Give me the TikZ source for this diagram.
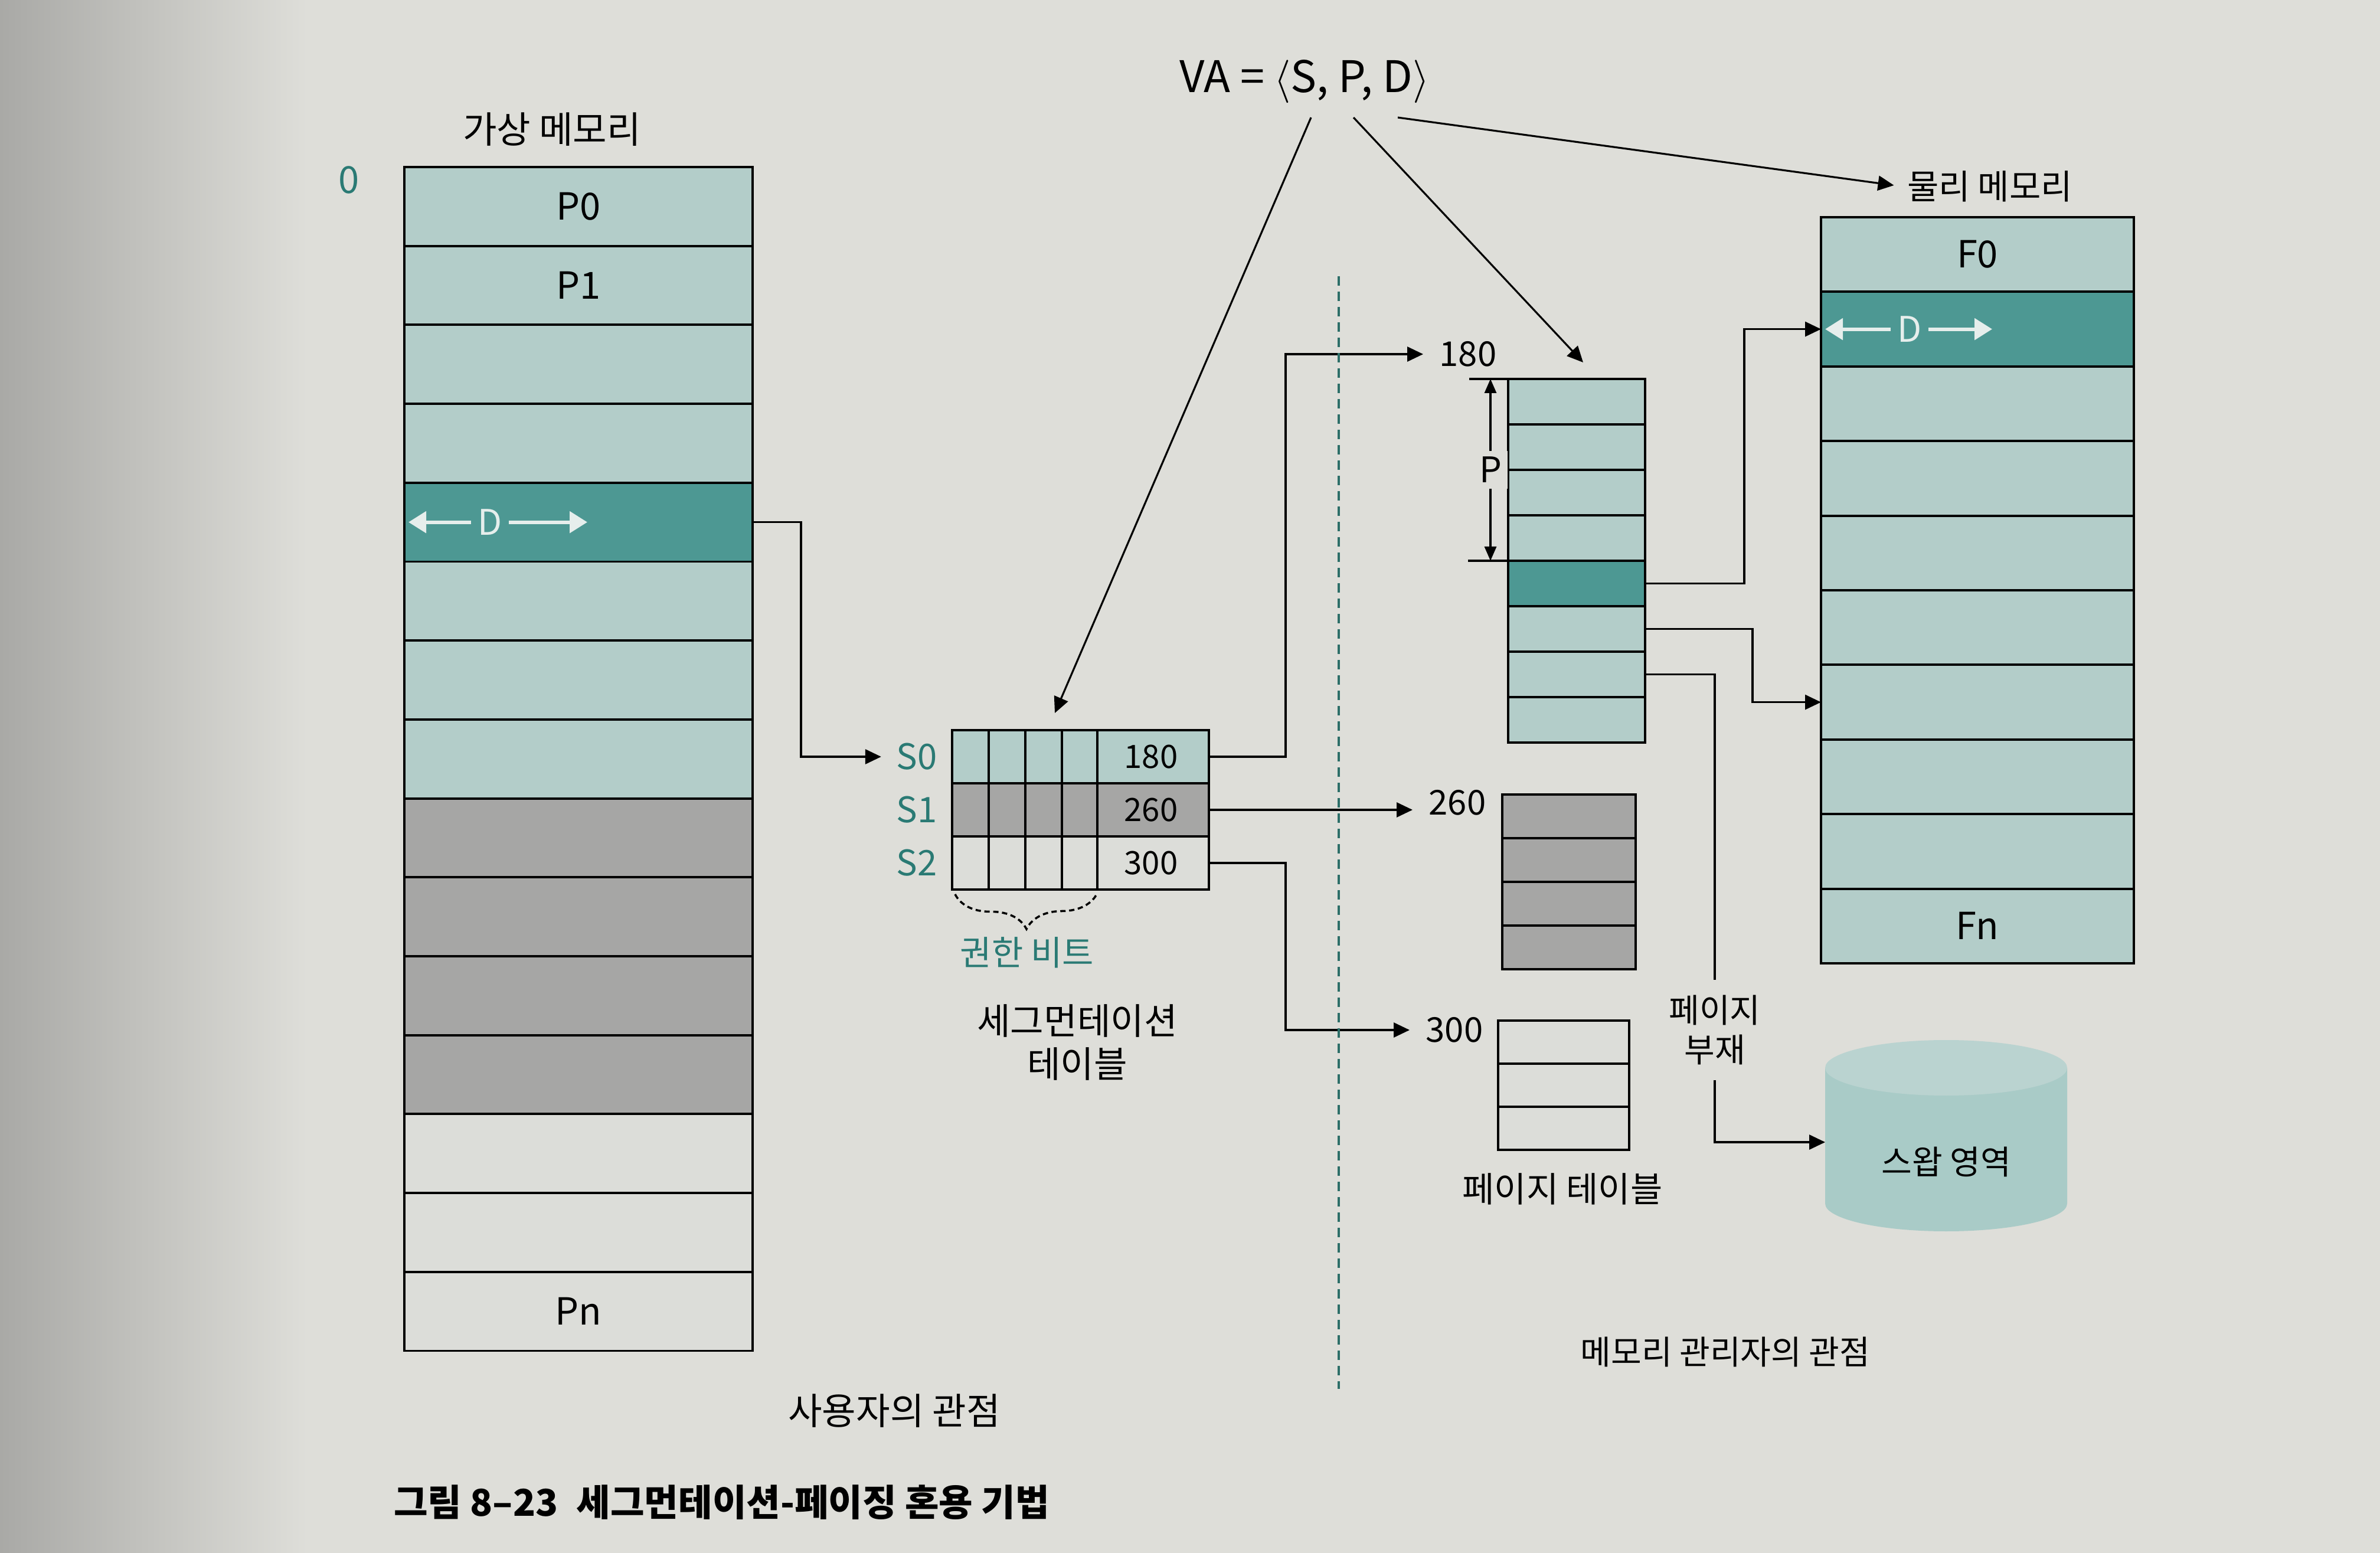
\documentclass[tikz,border=0pt]{standalone}
\usepackage{fontspec}
\setmainfont{Noto Sans CJK KR}
\usetikzlibrary{
    arrows.meta,
    positioning,
    calc,
    decorations.pathreplacing
}

\definecolor{paper}{HTML}{DEDED9}
\definecolor{pageshade}{HTML}{A9A9A6}
\definecolor{memteal}{HTML}{B3CDC9}
\definecolor{memdark}{HTML}{4D9893}
\definecolor{memgray}{HTML}{A6A6A5}
\definecolor{memwhite}{HTML}{DCDDD9}
\definecolor{tealtext}{HTML}{2A7A74}
\definecolor{dividerteal}{HTML}{2C6E68}
\definecolor{swapbody}{HTML}{A9CBC7}
\definecolor{swaptop}{HTML}{BAD3D0}
\definecolor{offsetwhite}{HTML}{E6EEEC}

\tikzset{
    % --- One page / frame slot of a memory column ---
    mem row/.style = {
        rectangle, draw=black, line width=1.1pt,
        inner sep=0pt, outer sep=0pt
    },
    % --- Korean labels ---
    label text/.style = {
        font=\fontsize{16}{19}\selectfont, align=center, inner sep=2pt
    },
    big label/.style = {
        label text, font=\fontsize{17.8}{21}\selectfont
    },
    % --- Page / frame names inside rows ---
    row name/.style = {
        font=\fontsize{18}{20}\selectfont, inner sep=1pt
    },
    % --- Numbers (table entries, page table bases) ---
    num text/.style = {
        font=\fontsize{15.5}{18}\selectfont, inner sep=2pt
    },
    % --- Teal annotation text ---
    teal note/.style = {
        label text, text=tealtext
    },
    % --- Offset D inside the highlighted row ---
    offset text/.style = {
        font=\fontsize{17}{20}\selectfont, text=offsetwhite, inner sep=3pt
    },
    offset arrow/.style = {
        -{Triangle[length=0.3cm, width=0.36cm]}, line width=1.7pt,
        draw=offsetwhite
    },
    % --- Connectors ---
    wire/.style = {line width=0.9pt},
    data arrow/.style = {
        -{Triangle[length=0.27cm, width=0.25cm]}, line width=0.9pt
    },
    % --- Page size dimension ---
    dim arrow/.style = {
        {Triangle[length=0.24cm, width=0.2cm]}-{Triangle[length=0.24cm, width=0.2cm]},
        line width=0.9pt
    },
    % --- User / manager boundary ---
    divider/.style = {
        draw=dividerteal, line width=0.9pt, dash pattern=on 0.16cm off 0.1cm
    },
    % --- Permission bits brace ---
    perm brace/.style = {
        decorate, decoration={brace, mirror, amplitude=0.6cm},
        line width=1pt, dash pattern=on 0.09cm off 0.06cm
    }
}

\begin{document}
\begin{tikzpicture}

% ---------------------------------------------------------
% Page (background)
% ---------------------------------------------------------
\useasboundingbox (0,0) rectangle (40.32,-26.31);
\fill[paper] (0,0) rectangle (40.32,-26.31);
\shade[left color=pageshade, right color=paper] (0,0) rectangle (5.2,-26.31);

% ---------------------------------------------------------
% Virtual memory (left)
% ---------------------------------------------------------
\foreach \c [count=\i from 0] in {memteal,memteal,memteal,memteal,memdark,
        memteal,memteal,memteal,memgray,memgray,memgray,memgray,
        memwhite,memwhite,memwhite}
    \node[mem row, fill=\c, minimum width=5.9cm, minimum height=1.337cm]
        (VM\i) at (9.80, {-2.83-1.337*(\i+0.5)}) {};

\node[big label, above=0.28cm of VM0, xshift=-0.45cm] (VMTitle) {가상 메모리};
\node[row name, text=tealtext] (VMZero) at ($(VM0.north west)+(-0.94,-0.22)$) {0};
\node[row name] (P0Lbl) at (VM0) {P0};
\node[row name] (P1Lbl) at (VM1) {P1};
\node[row name] (PnLbl) at (VM14) {Pn};

% offset inside the page
\node[offset text] (VMD) at ($(VM4.west)+(1.45,0)$) {D};
\coordinate (VMDEnd) at ($(VM4.west)+(3.1,0)$);
\draw[offset arrow, shorten >=2pt] (VMD.west) -- (VM4.west);
\draw[offset arrow] (VMD.east) -- (VMDEnd);

% ---------------------------------------------------------
% Virtual address
% ---------------------------------------------------------
\node[font=\fontsize{21}{24}\selectfont] (VA) at (22.10,-1.38)
    {VA = $\langle$S, P, D$\rangle$};
\coordinate (VaS) at ($(VA.south)+(0.11,-0.12)$);
\coordinate (VaP) at ($(VA.south)+(0.83,-0.12)$);
\coordinate (VaD) at ($(VA.south)+(1.58,-0.12)$);

% ---------------------------------------------------------
% Segmentation table
% ---------------------------------------------------------
\foreach \c [count=\i from 0] in {memteal,memgray,memwhite}
    \node[mem row, fill=\c, minimum width=4.35cm, minimum height=0.9cm]
        (Seg\i) at (18.305, {-12.37-0.9*(\i+0.5)}) {};
\foreach \dx in {0.62,1.24,1.86,2.46}
    \draw[line width=1.1pt] ($(Seg0.north west)+(\dx,0)$) -- ($(Seg2.south west)+(\dx,0)$);

\node[num text] (Base0) at ($(Seg0.east)+(-0.98,0)$) {180};
\node[num text] (Base1) at ($(Seg1.east)+(-0.98,0)$) {260};
\node[num text] (Base2) at ($(Seg2.east)+(-0.98,0)$) {300};

\node[num text, font=\fontsize{17}{19}\selectfont, text=tealtext, left=0.18cm of Seg0] (S0) {S0};
\node[num text, font=\fontsize{17}{19}\selectfont, text=tealtext, left=0.18cm of Seg1] (S1) {S1};
\node[num text, font=\fontsize{17}{19}\selectfont, text=tealtext, left=0.18cm of Seg2] (S2) {S2};

% permission bits
\coordinate (PermL) at ($(Seg2.south west)+(0.05,-0.08)$);
\coordinate (PermR) at ($(Seg2.south west)+(2.46,-0.06)$);
\draw[perm brace] (PermL) -- (PermR);
\node[teal note, font=\fontsize{16.5}{19}\selectfont] (PermLbl) at (17.40,-16.14) {권한 비트};
\node[big label, font=\fontsize{17.5}{20}\selectfont] (SegTitle) at (18.25,-17.66)
    {세그먼테이션\\[1pt]테이블};

\draw[data arrow, shorten >=0.18cm] (VM4.east) -- ++(0.82,0) |- (S0.west);
\draw[data arrow] (VaS) -- ($(Seg0.north west)+(1.74,0.29)$);

% ---------------------------------------------------------
% Page tables
% ---------------------------------------------------------
\foreach \c [count=\i from 0] in {memteal,memteal,memteal,memteal,memdark,
        memteal,memteal,memteal}
    \node[mem row, fill=\c, minimum width=2.32cm, minimum height=0.77cm]
        (PTa\i) at (26.71, {-6.42-0.77*(\i+0.5)}) {};
\foreach \i in {0,...,3}
    \node[mem row, fill=memgray, minimum width=2.26cm, minimum height=0.74cm]
        (PTb\i) at (26.58, {-13.46-0.74*(\i+0.5)}) {};
\foreach \i in {0,...,2}
    \node[mem row, fill=memwhite, minimum width=2.22cm, minimum height=0.73cm]
        (PTc\i) at (26.49, {-17.29-0.73*(\i+0.5)}) {};

\node[num text, font=\fontsize{16.5}{18}\selectfont] (L180) at (24.87,-6.00) {180};
\node[num text, font=\fontsize{16.5}{18}\selectfont] (L260) at (24.69,-13.60) {260};
\node[num text, font=\fontsize{16.5}{18}\selectfont] (L300) at (24.64,-17.45) {300};
\node[label text, font=\fontsize{16.8}{19}\selectfont] (PTTitle) at (26.47,-20.14) {페이지 테이블};

\draw[data arrow, shorten >=0.2cm] (Seg0.east) -- ++(1.30,0) |- (L180.west);
\draw[data arrow, shorten >=0.2cm] (Seg1.east) -- (Seg1.east -| L260.west);
\draw[data arrow, shorten >=0.2cm] (Seg2.east) -- ++(1.30,0) |- (L300.west);

% page size P
\coordinate (PTickTop) at ($(PTa0.north west)+(-0.66,0)$);
\coordinate (PTickBot) at ($(PTa4.north west)+(-0.68,0)$);
\draw[wire] (PTa0.north west) -- (PTickTop);
\draw[wire] (PTa4.north west) -- (PTickBot);
\coordinate (PArrTop) at ($(PTa0.north west)+(-0.30,0)$);
\coordinate (PArrBot) at ($(PTa4.north west)+(-0.30,0)$);
\draw[dim arrow] (PArrTop) -- (PArrBot)
    node[midway, fill=paper, font=\fontsize{17}{18}\selectfont, inner sep=3pt] (PLbl) {P};

\draw[data arrow] (VaP) -- ($(PTa0.north)+(0.11,0.28)$);

% ---------------------------------------------------------
% Physical memory (right)
% ---------------------------------------------------------
\foreach \c [count=\i from 0] in {memteal,memdark,memteal,memteal,memteal,
        memteal,memteal,memteal,memteal,memteal}
    \node[mem row, fill=\c, minimum width=5.30cm, minimum height=1.264cm]
        (PM\i) at (33.50, {-3.68-1.264*(\i+0.5)}) {};

\node[label text, font=\fontsize{16.5}{19}\selectfont] (PMTitle) at (33.71,-3.16) {물리 메모리};
\node[row name] (F0Lbl) at (PM0) {F0};
\node[row name] (FnLbl) at (PM9) {Fn};

\node[offset text] (PMD) at ($(PM1.west)+(1.50,0)$) {D};
\coordinate (PMDEnd) at ($(PM1.west)+(2.90,0)$);
\draw[offset arrow, shorten >=2pt] (PMD.west) -- (PM1.west);
\draw[offset arrow] (PMD.east) -- (PMDEnd);

\draw[data arrow, shorten >=0.15cm] (VaD) -- (PMTitle.west);

\draw[data arrow] (PTa4.east) -- ++(1.68,0) |- (PM1.west);
\draw[data arrow] (PTa5.east) -- ++(1.82,0) |- (PM6.west);

% ---------------------------------------------------------
% Swap area and page fault
% ---------------------------------------------------------
\coordinate (SwapC) at (32.97,-18.09);
\fill[swapbody] ($(SwapC)+(-2.05,0)$) -- ++(0,-2.30)
    arc[start angle=180, end angle=360, x radius=2.05cm, y radius=0.47cm]
    -- ++(0,2.30) -- cycle;
\fill[swaptop] (SwapC) ellipse [x radius=2.05cm, y radius=0.47cm];
\node[label text] (SwapLbl) at ($(SwapC)+(0,-1.59)$) {스왑 영역};
\coordinate (SwapIn) at ($(SwapC)+(-2.05,-1.26)$);

\node[label text, inner ysep=0.25cm] (PFLbl) at (29.05,-17.45) {페이지\\부재};
\draw[wire] (PTa6.east) -| (PFLbl.north);
\draw[data arrow] (PFLbl.south) |- (SwapIn);

% ---------------------------------------------------------
% Views and caption
% ---------------------------------------------------------
\coordinate (DivTop) at (22.68,-4.68);
\coordinate (DivBot) at (22.68,-23.53);
\draw[divider] (DivTop) -- (DivBot);

\node[big label] (UserView) at (15.15,-23.90) {사용자의 관점};
\node[label text] (MgrView) at (29.23,-22.90) {메모리 관리자의 관점};

\node[font=\bfseries\fontsize{17.8}{21}\selectfont, anchor=west] (Caption)
    at (6.55,-25.45) {그림 8–23\enspace 세그먼테이션-페이징 혼용 기법};

\end{tikzpicture}
\end{document}
